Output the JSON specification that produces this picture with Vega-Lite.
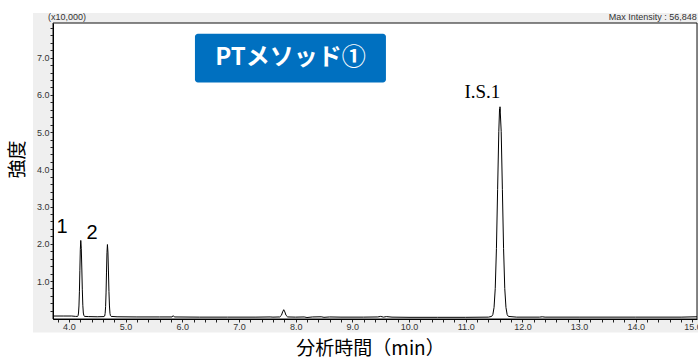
{
  "$schema": "https://vega.github.io/schema/vega-lite/v6.json",
  "width": 644,
  "height": 296,
  "autosize": "none",
  "padding": {"left": 53, "top": 23, "right": 1, "bottom": 41},
  "background": "white",
  "config": {"view": {"stroke": null}},
  "encoding": {
    "x": {
      "field": "x", "type": "quantitative",
      "scale": {"domain": [3.72, 15.08], "nice": false, "zero": false},
      "axis": {
        "title": "分析時間（min）",
        "values": [3.8,4,4.2,4.4,4.6,4.8,5,5.2,5.4,5.6,5.8,6,6.2,6.4,6.6,6.8,7,7.2,7.4,7.6,7.8,8,8.2,8.4,8.6,8.8,9,9.2,9.4,9.6,9.8,10,10.2,10.4,10.6,10.8,11,11.2,11.4,11.6,11.8,12,12.2,12.4,12.6,12.8,13,13.2,13.4,13.6,13.8,14,14.2,14.4,14.6,14.8,15],
        "labelExpr": "abs(datum.value - round(datum.value)) < 0.001 ? format(datum.value, '.1f') : ''",
        "grid": false, "zindex": 1,
        "domainColor": "#000", "tickColor": "#222", "tickSize": 3,
        "labelFont": "Liberation Sans", "labelFontSize": 9, "labelColor": "#333", "labelPadding": 0,
        "labelFlush": false, "labelOverlap": false,
        "titleFont": "Noto Sans CJK JP", "titleFontSize": 19, "titleFontWeight": "normal", "titleColor": "#000",
        "titleX": 317, "titleY": 29, "titleBaseline": "middle", "titleAlign": "center", "titleAnchor": null
      }
    },
    "y": {
      "field": "y", "type": "quantitative",
      "scale": {"domain": [-0.02, 7.93], "nice": false, "zero": false},
      "axis": {
        "title": "強度",
        "values": [0.2,0.4,0.6,0.8,1,1.2,1.4,1.6,1.8,2,2.2,2.4,2.6,2.8,3,3.2,3.4,3.6,3.8,4,4.2,4.4,4.6,4.8,5,5.2,5.4,5.6,5.8,6,6.2,6.4,6.6,6.8,7,7.2,7.4,7.6,7.8],
        "labelExpr": "abs(datum.value - round(datum.value)) < 0.001 ? format(datum.value, '.1f') : ''",
        "grid": false, "zindex": 1,
        "domainColor": "#000", "tickColor": "#222", "tickSize": 3,
        "labelFont": "Liberation Sans", "labelFontSize": 9, "labelColor": "#333", "labelPadding": 1,
        "labelOverlap": false, "labelFlush": false,
        "titleFont": "Noto Sans CJK JP", "titleFontSize": 19, "titleFontWeight": "normal", "titleColor": "#000",
        "titleAngle": 270, "titleX": -36, "titleY": 136, "titleBaseline": "middle", "titleAlign": "center", "titleAnchor": null
      }
    }
  },
  "layer": [
    {
      "data": {"values": [{"x": 3.367, "x2": 15.3, "y": -0.382, "y2": 8.2}]},
      "mark": {"type": "rect", "fill": "#efefef"},
      "encoding": {"x2": {"field": "x2"}, "y2": {"field": "y2"}}
    },
    {
      "data": {"values": [{"x": 3.72, "x2": 15.08, "y": -0.02, "y2": 7.93}]},
      "mark": {"type": "rect", "fill": "white", "stroke": "#111", "strokeWidth": 1},
      "encoding": {"x2": {"field": "x2"}, "y2": {"field": "y2"}}
    },
    {
      "data": {"values": [
        {"x": 3.72, "y": 0.06}, {"x": 3.9, "y": 0.06}, {"x": 4.05, "y": 0.06}, {"x": 4.12, "y": 0.05}, {"x": 4.155, "y": 0.05},
        {"x": 4.162, "y": 0.07}, {"x": 4.17, "y": 0.14}, {"x": 4.178, "y": 0.33}, {"x": 4.186, "y": 0.71}, {"x": 4.194, "y": 1.29}, {"x": 4.202, "y": 1.85}, {"x": 4.21, "y": 2.09}, {"x": 4.219, "y": 1.88}, {"x": 4.228, "y": 1.35}, {"x": 4.237, "y": 0.78}, {"x": 4.246, "y": 0.35}, {"x": 4.255, "y": 0.14}, {"x": 4.264, "y": 0.08}, {"x": 4.275, "y": 0.05},
        {"x": 4.35, "y": 0.045}, {"x": 4.5, "y": 0.04}, {"x": 4.62, "y": 0.045},
        {"x": 4.632, "y": 0.06}, {"x": 4.64, "y": 0.13}, {"x": 4.648, "y": 0.31}, {"x": 4.656, "y": 0.68}, {"x": 4.664, "y": 1.24}, {"x": 4.672, "y": 1.76}, {"x": 4.68, "y": 1.98}, {"x": 4.689, "y": 1.78}, {"x": 4.698, "y": 1.27}, {"x": 4.707, "y": 0.72}, {"x": 4.716, "y": 0.33}, {"x": 4.725, "y": 0.13}, {"x": 4.734, "y": 0.07}, {"x": 4.745, "y": 0.05},
        {"x": 4.85, "y": 0.04}, {"x": 5.2, "y": 0.035}, {"x": 5.6, "y": 0.035}, {"x": 5.82, "y": 0.035}, {"x": 5.84, "y": 0.07}, {"x": 5.86, "y": 0.035},
        {"x": 6.3, "y": 0.03}, {"x": 6.8, "y": 0.03}, {"x": 7.3, "y": 0.03}, {"x": 7.55, "y": 0.035}, {"x": 7.6, "y": 0.03},
        {"x": 7.72, "y": 0.035}, {"x": 7.75, "y": 0.08}, {"x": 7.77, "y": 0.17}, {"x": 7.79, "y": 0.23}, {"x": 7.81, "y": 0.17}, {"x": 7.83, "y": 0.08}, {"x": 7.86, "y": 0.035},
        {"x": 8.0, "y": 0.03}, {"x": 8.15, "y": 0.035}, {"x": 8.2, "y": 0.02}, {"x": 8.3, "y": 0.035}, {"x": 8.45, "y": 0.04}, {"x": 8.5, "y": 0.025}, {"x": 8.6, "y": 0.035}, {"x": 8.8, "y": 0.03},
        {"x": 9.2, "y": 0.03}, {"x": 9.45, "y": 0.035}, {"x": 9.5, "y": 0.05}, {"x": 9.55, "y": 0.03}, {"x": 9.6, "y": 0.045}, {"x": 9.7, "y": 0.03},
        {"x": 10.0, "y": 0.025}, {"x": 10.5, "y": 0.025}, {"x": 11.0, "y": 0.025}, {"x": 11.4, "y": 0.03}, {"x": 11.458, "y": 0.05},
        {"x": 11.479, "y": 0.1}, {"x": 11.5, "y": 0.29}, {"x": 11.521, "y": 0.8}, {"x": 11.542, "y": 1.87}, {"x": 11.563, "y": 3.46}, {"x": 11.584, "y": 5.02}, {"x": 11.597, "y": 5.62}, {"x": 11.6, "y": 5.55}, {"x": 11.605, "y": 5.68}, {"x": 11.626, "y": 5.02}, {"x": 11.647, "y": 3.46}, {"x": 11.668, "y": 1.87}, {"x": 11.689, "y": 0.8}, {"x": 11.71, "y": 0.29}, {"x": 11.731, "y": 0.1}, {"x": 11.752, "y": 0.05},
        {"x": 11.9, "y": 0.03}, {"x": 12.3, "y": 0.03}, {"x": 12.35, "y": 0.04}, {"x": 12.4, "y": 0.03}, {"x": 13.0, "y": 0.03}, {"x": 14.0, "y": 0.03}, {"x": 14.8, "y": 0.03}, {"x": 15.08, "y": 0.04}
      ]},
      "mark": {"type": "line", "color": "#000", "strokeWidth": 1, "clip": true},
      "encoding": {}
    },
    {
      "data": {"values": [{"x": 3.878, "y": 2.45, "label": "1"}, {"x": 4.407, "y": 2.28, "label": "2"}]},
      "mark": {"type": "text", "font": "Liberation Sans", "fontSize": 20, "color": "#000", "baseline": "middle", "align": "center"},
      "encoding": {"text": {"field": "label"}}
    },
    {
      "data": {"values": [{"x": 11.295, "y": 6.09, "label": "I.S.1"}]},
      "mark": {"type": "text", "font": "Liberation Serif", "fontSize": 19, "color": "#000", "baseline": "middle", "align": "center"},
      "encoding": {"text": {"field": "label"}}
    },
    {
      "data": {"values": [{"x": 6.224, "x2": 9.593, "y": 6.329, "y2": 7.639}]},
      "mark": {"type": "rect", "fill": "#0070c0", "cornerRadius": 3},
      "encoding": {"x2": {"field": "x2"}, "y2": {"field": "y2"}}
    },
    {
      "data": {"values": [{"x": 7.908, "y": 6.98, "label": "PTメソッド①"}]},
      "mark": {"type": "text", "font": "Noto Sans CJK JP", "fontSize": 24, "fontWeight": "bold", "color": "white", "baseline": "middle", "align": "center"},
      "encoding": {"text": {"field": "label"}}
    },
    {
      "data": {"values": [{"x": 3.967, "y": 8.08, "label": "(x10,000)"}]},
      "mark": {"type": "text", "font": "Liberation Sans", "fontSize": 9, "color": "#333", "baseline": "middle", "align": "center"},
      "encoding": {"text": {"field": "label"}}
    },
    {
      "data": {"values": [{"x": 15.075, "y": 8.08, "label": "Max Intensity : 56,848"}]},
      "mark": {"type": "text", "font": "Liberation Sans", "fontSize": 9, "color": "#333", "baseline": "middle", "align": "right"},
      "encoding": {"text": {"field": "label"}}
    }
  ]
}
